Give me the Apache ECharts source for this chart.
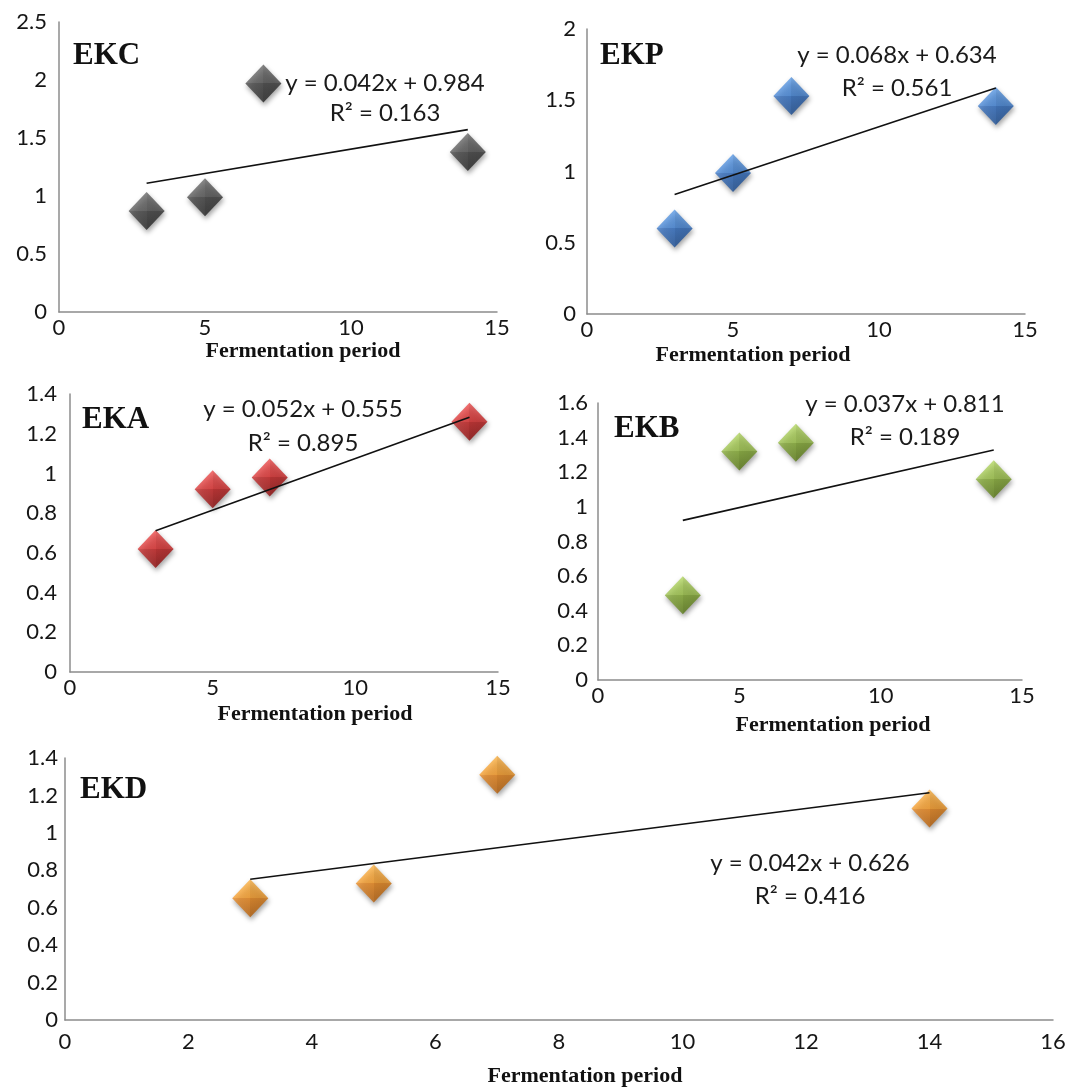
<!DOCTYPE html>
<html>
<head>
<meta charset="utf-8">
<script src="https://cdn.jsdelivr.net/npm/echarts@6/dist/echarts.min.js"></script>
<style>
html,body{margin:0;padding:0;background:#fff}
#c{width:1069px;height:1088px}
</style>
</head>
<body>
<div id="c"></div>
<script>
// ---------------- data ----------------
const days = [3, 5, 7, 14];
const ekcValues = [0.87, 0.99, 1.97, 1.38];
const ekpValues = [0.60, 0.99, 1.53, 1.46];
const ekaValues = [0.62, 0.92, 0.98, 1.26];
const ekbValues = [0.49, 1.32, 1.37, 1.16];
const ekdValues = [0.65, 0.73, 1.31, 1.13];

const panelNames = ['EKC', 'EKP', 'EKA', 'EKB', 'EKD'];
const slopes = [0.042, 0.068, 0.052, 0.037, 0.042];
const intercepts = [0.984, 0.634, 0.555, 0.811, 0.626];
const rSquared = ['0.163', '0.561', '0.895', '0.189', '0.416'];

const xMax = [15, 15, 15, 15, 16];
const xInterval = [5, 5, 5, 5, 2];
const yMax = [2.5, 2, 1.4, 1.6, 1.4];
const yInterval = [0.5, 0.5, 0.2, 0.2, 0.2];
const xAxisTitle = 'Fermentation period';

// ---------------- layout / style ----------------
const valuesList = [ekcValues, ekpValues, ekaValues, ekbValues, ekdValues];
const grids = [
  {left: 59, top: 22, width: 438, height: 290},
  {left: 587, top: 29, width: 438, height: 285},
  {left: 70, top: 394, width: 428, height: 278},
  {left: 598, top: 403, width: 424, height: 277},
  {left: 65, top: 758, width: 988, height: 262}
];
const yLabelMargin = [12, 11, 13, 10, 7];
const xLabelMargin = [5, 5, 5, 5, 11];
const titlePos = [[73, 58], [600, 58], [82, 422], [614, 431], [80, 792]];
const eqPos = [[385, 83, 113], [897, 55, 88], [303, 409, 443], [905, 404, 437], [810, 863, 896]];
const namePos = [[303, 351], [753, 355], [315, 714], [833, 725], [585, 1076]];
const palettes = [
  ['#6a6a6a', '#4f4f4f', '#3a3a3a', '#252525'],
  ['#5c9be6', '#3c7fd4', '#2a68bd', '#1c4f96'],
  ['#ef4d4d', '#da2828', '#c01a1a', '#8f0c0c'],
  ['#b4d862', '#96be40', '#7fa62c', '#5c7c17'],
  ['#fbb244', '#f6971f', '#e47f12', '#b85f08']
];

const grid = [], xAxis = [], yAxis = [], series = [], graphic = [];
const tickFont = 'Lato, "Open Sans", sans-serif';

for (let i = 0; i < 5; i++) {
  grid.push(Object.assign({containLabel: false}, grids[i]));
  xAxis.push({
    type: 'value', gridIndex: i, min: 0, max: xMax[i], interval: xInterval[i],
    axisLine: {show: true, lineStyle: {color: '#8c8c8c', width: 1.5}},
    axisTick: {show: false}, splitLine: {show: false},
    axisLabel: {margin: xLabelMargin[i], color: '#161616', fontSize: 22, fontFamily: tickFont}
  });
  yAxis.push({
    type: 'value', gridIndex: i, min: 0, max: yMax[i], interval: yInterval[i],
    axisLine: {show: true, lineStyle: {color: '#8c8c8c', width: 1.5}},
    axisTick: {show: false}, splitLine: {show: false},
    axisLabel: {margin: yLabelMargin[i], color: '#161616', fontSize: 22, fontFamily: tickFont}
  });
  const pts = days.map((d, j) => [d, valuesList[i][j]]);
  const p = palettes[i];
  series.push({
    type: 'scatter', xAxisIndex: i, yAxisIndex: i, data: pts, z: 2,
    symbol: 'diamond', symbolSize: [36, 38],
    itemStyle: {
      color: {type: 'linear', x: 0, y: 0, x2: 0, y2: 1, colorStops: [
        {offset: 0, color: p[0]}, {offset: 0.5, color: p[1]},
        {offset: 0.5, color: p[2]}, {offset: 1, color: p[3]}]},
      shadowBlur: 5, shadowColor: 'rgba(0,0,0,0.45)', shadowOffsetX: 1, shadowOffsetY: 3
    }
  });
  series.push({
    type: 'scatter', xAxisIndex: i, yAxisIndex: i, data: pts, z: 3, silent: true,
    symbol: 'diamond', symbolSize: [36, 38],
    itemStyle: {
      color: {type: 'linear', x: 0, y: 0, x2: 1, y2: 0, colorStops: [
        {offset: 0, color: 'rgba(255,255,255,0.12)'}, {offset: 0.5, color: 'rgba(255,255,255,0.02)'},
        {offset: 0.5, color: 'rgba(0,0,0,0.06)'}, {offset: 1, color: 'rgba(0,0,0,0.14)'}]}
    }
  });
  const x0 = Math.min(...days), x1 = Math.max(...days);
  series.push({
    type: 'line', xAxisIndex: i, yAxisIndex: i, z: 4, silent: true,
    symbol: 'none', data: [[x0, intercepts[i] + slopes[i] * x0], [x1, intercepts[i] + slopes[i] * x1]],
    lineStyle: {color: '#111', width: 1.6}
  });

  graphic.push({type: 'text', left: titlePos[i][0], top: titlePos[i][1] - 18, z: 10,
    style: {text: panelNames[i], fill: '#111', font: 'bold 31px "Liberation Serif", serif'}});
  graphic.push({type: 'text', x: eqPos[i][0], y: eqPos[i][1], z: 10,
    style: {text: 'y = ' + slopes[i].toFixed(3) + 'x + ' + intercepts[i].toFixed(3),
      fill: '#1a1a1a', font: '24px Lato, "Open Sans", sans-serif', textAlign: 'center', textVerticalAlign: 'middle'}});
  graphic.push({type: 'text', x: eqPos[i][0], y: eqPos[i][2], z: 10,
    style: {text: 'R\u00b2 = ' + rSquared[i],
      fill: '#1a1a1a', font: '24px Lato, "Open Sans", sans-serif', textAlign: 'center', textVerticalAlign: 'middle'}});
  graphic.push({type: 'text', x: namePos[i][0], y: namePos[i][1], z: 10,
    style: {text: xAxisTitle, fill: '#111', font: 'bold 22px "Liberation Serif", serif',
      textAlign: 'center', textVerticalAlign: 'middle'}});
}

const chart = echarts.init(document.getElementById('c'), null, {renderer: 'canvas'});
chart.setOption({animation: false, backgroundColor: '#fff', grid, xAxis, yAxis, series, graphic});
</script>
</body>
</html>
